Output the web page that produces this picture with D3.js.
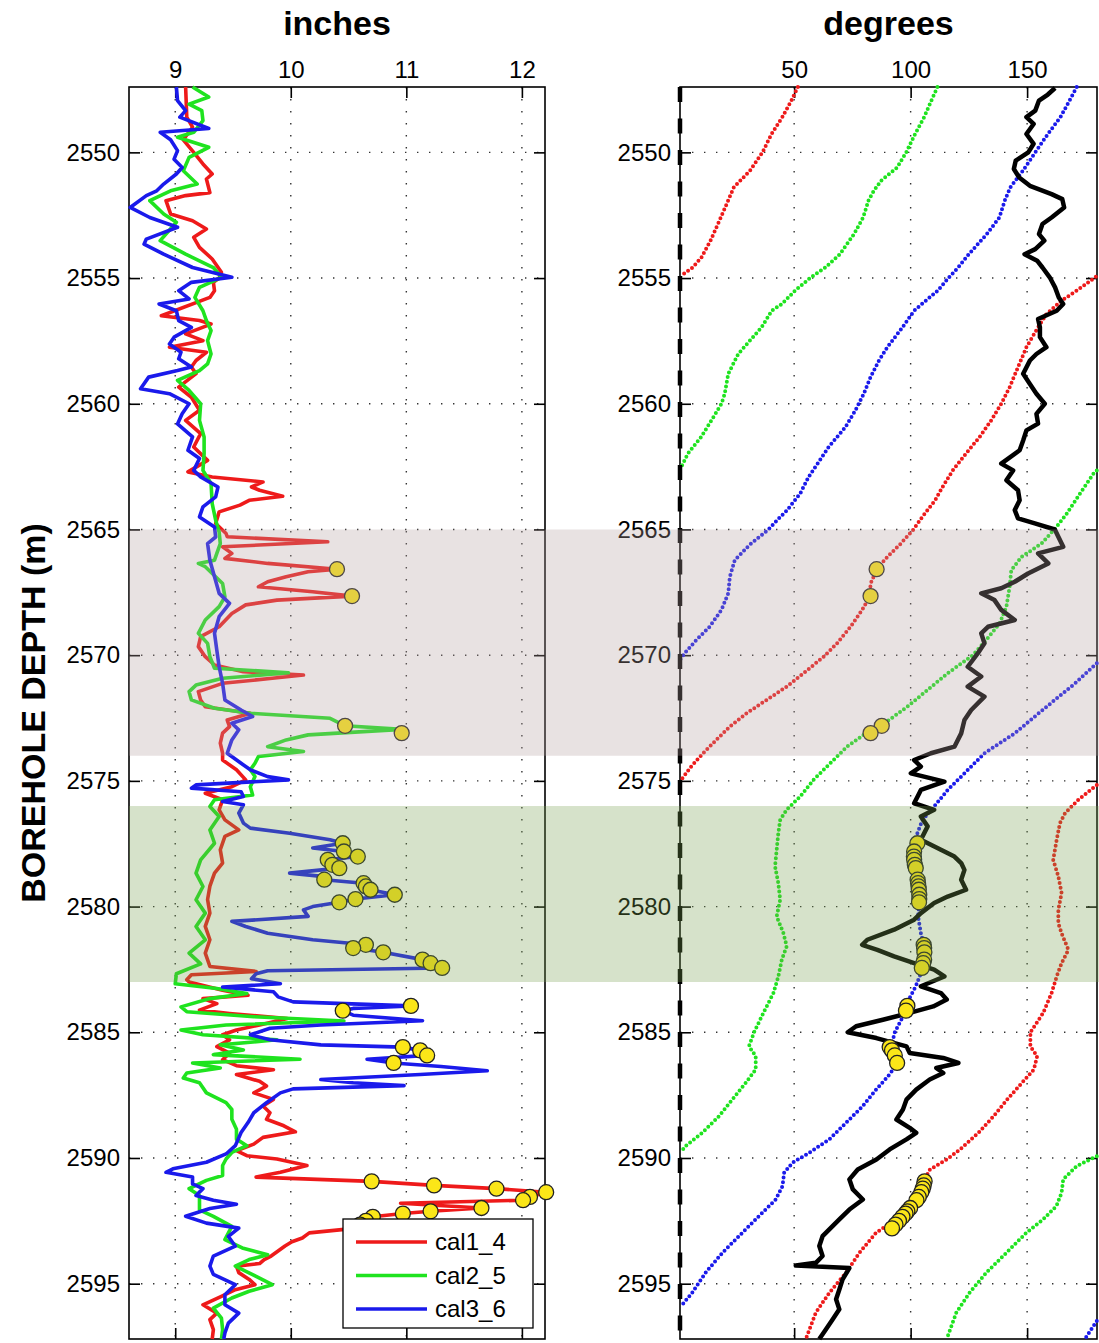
<!DOCTYPE html>
<html>
<head>
<meta charset="utf-8">
<script src="https://cdn.jsdelivr.net/npm/d3@7"></script>
<style>
    body { margin: 0; background: #fff; }
    svg { display: block; font-family: "Liberation Sans", Arial, sans-serif; }
</style>
</head>
<body>
<div class="caliperLog"></div>
<script>
// axis ticks
var depthTicks = [2550, 2555, 2560, 2565, 2570, 2575, 2580, 2585, 2590, 2595];
var inchTicks = [9, 10, 11, 12];
var degreeTicks = [50, 100, 150];

var seriesNames = ['cal1_4', 'cal2_5', 'cal3_6'];

// depth bands (m)
var bandPink = [2565, 2574];
var bandGreen = [2576, 2583];

// caliper curves: [depth, inches]
var cal1_4 = [
    [2547.4, 9.09], [2548.6, 9.10], [2549.0, 9.15], [2549.5, 9.07], [2550.0, 9.16], [2550.46, 9.24],
    [2550.86, 9.32], [2551.06, 9.27], [2551.6, 9.30], [2551.72, 9.09], [2551.92, 8.92], [2552.45, 8.96],
    [2552.72, 9.15], [2553.05, 9.27], [2553.38, 9.16], [2553.78, 9.21], [2554.24, 9.32], [2554.77, 9.40],
    [2555.0, 9.38], [2555.17, 9.33], [2555.5, 9.34], [2555.77, 9.30], [2556.5, 8.88], [2556.69, 9.21],
    [2556.83, 9.31], [2557.22, 9.09], [2557.49, 9.24], [2557.75, 8.95], [2557.95, 9.27], [2558.28, 9.18],
    [2558.54, 9.14], [2558.8, 9.18], [2559.34, 9.03], [2559.74, 9.14], [2560.26, 9.21], [2560.66, 9.09],
    [2561.19, 9.22], [2561.72, 9.16], [2562.25, 9.28], [2562.71, 9.11], [2562.91, 9.32], [2563.11, 9.76],
    [2563.31, 9.66], [2563.44, 9.73], [2563.68, 9.93], [2563.84, 9.64], [2564.03, 9.56], [2564.3, 9.38],
    [2564.76, 9.35], [2565.16, 9.44], [2565.29, 9.45], [2565.49, 10.32], [2565.69, 9.41], [2565.95, 9.49],
    [2566.15, 9.43], [2566.35, 9.80], [2566.58, 10.40], [2566.68, 10.15], [2566.88, 9.96], [2567.08, 9.80],
    [2567.28, 9.72], [2567.48, 10.19], [2567.65, 10.53], [2567.81, 9.88], [2568.0, 9.61], [2568.34, 9.49],
    [2568.87, 9.38], [2569.26, 9.22], [2569.66, 9.20], [2570.06, 9.26], [2570.39, 9.34], [2570.66, 9.59],
    [2570.79, 10.11], [2570.92, 9.84], [2571.12, 9.41], [2571.45, 9.20], [2571.78, 9.22], [2572.05, 9.26],
    [2572.31, 9.65], [2572.58, 9.45], [2572.84, 9.47], [2573.1, 9.41], [2573.5, 9.39], [2573.9, 9.41],
    [2574.17, 9.41], [2574.56, 9.53], [2574.96, 9.61], [2575.23, 9.49], [2575.49, 9.26], [2575.75, 9.41],
    [2576.15, 9.38], [2576.55, 9.43], [2576.95, 9.55], [2577.21, 9.43], [2577.74, 9.39], [2578.27, 9.41],
    [2578.67, 9.34], [2579.19, 9.30], [2579.72, 9.28], [2580.26, 9.30], [2580.79, 9.26], [2581.32, 9.30],
    [2581.85, 9.26], [2582.38, 9.30], [2582.58, 9.70], [2582.71, 9.14], [2582.91, 9.10], [2583.0, 9.12],
    [2583.33, 9.41], [2583.53, 9.63], [2583.66, 9.24], [2583.86, 9.36], [2584.12, 9.21], [2584.25, 9.47],
    [2584.45, 9.97], [2584.71, 9.73], [2584.91, 9.53], [2585.1, 9.41], [2585.3, 9.47], [2585.57, 9.36],
    [2585.83, 9.47], [2586.09, 9.41], [2586.33, 9.53], [2586.49, 9.85], [2586.68, 9.53], [2586.95, 9.73],
    [2587.14, 9.79], [2587.41, 9.68], [2587.67, 9.85], [2587.93, 9.76], [2588.2, 9.82], [2588.46, 9.79],
    [2588.72, 9.94], [2588.96, 10.04], [2589.18, 9.76], [2589.45, 9.68], [2589.71, 9.53], [2589.91, 9.62],
    [2590.04, 9.88], [2590.30, 10.14], [2590.57, 9.91], [2590.76, 9.70], [2590.93, 10.70], [2591.09, 11.24],
    [2591.22, 11.78], [2591.36, 12.21], [2591.55, 12.07], [2591.68, 12.01], [2591.80, 10.95], [2591.99, 11.65],
    [2592.12, 11.21], [2592.21, 10.97], [2592.34, 10.71], [2592.5, 10.65], [2592.65, 10.6], [2592.8, 10.55],
    [2592.98, 10.16], [2593.18, 10.10], [2593.33, 10.01], [2593.5, 9.95], [2593.7, 9.89], [2593.9, 9.83],
    [2594.04, 9.77], [2594.2, 9.73], [2594.3, 9.53], [2594.56, 9.55], [2594.83, 9.64], [2595.04, 9.69],
    [2595.24, 9.52], [2595.5, 9.40], [2595.84, 9.24], [2596.17, 9.36], [2596.43, 9.30], [2596.83, 9.33],
    [2597.2, 9.32]
];

var cal2_5 = [
    [2547.4, 9.15], [2547.8, 9.29], [2548.08, 9.12], [2548.34, 9.23], [2548.74, 9.24], [2549.2, 9.16],
    [2549.4, 9.02], [2549.8, 9.29], [2550.2, 9.12], [2550.73, 9.07], [2551.26, 9.19], [2551.53, 8.96],
    [2551.92, 8.78], [2552.45, 8.90], [2552.78, 9.01], [2553.51, 8.87], [2554.05, 9.09], [2554.58, 9.33],
    [2554.97, 9.40], [2555.37, 9.21], [2555.77, 9.17], [2556.3, 9.24], [2556.69, 9.27], [2557.09, 9.31],
    [2557.49, 9.28], [2558.02, 9.31], [2558.41, 9.28], [2558.68, 9.21], [2559.07, 9.02], [2559.47, 9.12],
    [2560.0, 9.22], [2560.66, 9.21], [2561.32, 9.25], [2561.98, 9.25], [2562.65, 9.24], [2563.17, 9.31],
    [2563.97, 9.32], [2564.63, 9.35], [2565.1, 9.38], [2565.56, 9.39], [2565.95, 9.36], [2566.22, 9.34],
    [2566.35, 9.20], [2566.48, 9.26], [2567.15, 9.41], [2567.68, 9.43], [2568.07, 9.38], [2568.6, 9.26],
    [2569.13, 9.20], [2569.53, 9.28], [2570.06, 9.30], [2570.52, 9.34], [2570.7, 9.98], [2570.92, 9.41],
    [2571.19, 9.18], [2571.45, 9.12], [2571.78, 9.14], [2572.11, 9.34], [2572.31, 9.65], [2572.51, 10.34],
    [2572.81, 10.47], [2572.95, 10.96], [2573.17, 10.15], [2573.37, 9.96], [2573.64, 9.80], [2573.83, 10.11],
    [2574.03, 9.72], [2574.3, 9.69], [2574.56, 9.65], [2574.83, 9.69], [2575.23, 9.65], [2575.56, 9.67],
    [2575.75, 9.34], [2576.02, 9.30], [2576.42, 9.38], [2576.95, 9.30], [2577.48, 9.34], [2578.14, 9.22],
    [2578.67, 9.18], [2579.2, 9.24], [2579.73, 9.18], [2580.26, 9.26], [2580.79, 9.18], [2581.32, 9.26],
    [2581.85, 9.12], [2582.28, 9.22], [2582.67, 9.01], [2583.07, 9.0], [2583.26, 9.36], [2583.46, 9.62],
    [2583.66, 9.30], [2583.99, 9.05], [2584.18, 9.10], [2584.38, 9.68], [2584.55, 10.46], [2584.71, 9.44],
    [2584.91, 9.05], [2585.1, 9.24], [2585.3, 9.88], [2585.5, 9.39], [2585.7, 9.59], [2585.89, 9.33],
    [2586.07, 10.08], [2586.22, 9.15], [2586.42, 9.39], [2586.62, 9.10], [2586.82, 9.07], [2587.01, 9.21],
    [2587.41, 9.27], [2587.8, 9.44], [2588.07, 9.49], [2588.46, 9.49], [2588.86, 9.53], [2589.25, 9.53],
    [2589.51, 9.62], [2589.78, 9.49], [2590.04, 9.44], [2590.3, 9.41], [2590.7, 9.41], [2590.89, 9.27],
    [2591.22, 9.12], [2591.49, 9.21], [2591.88, 9.21], [2592.06, 9.21], [2592.32, 9.33], [2592.72, 9.49],
    [2593.25, 9.43], [2593.58, 9.58], [2593.85, 9.80], [2594.04, 9.64], [2594.3, 9.52], [2594.71, 9.70],
    [2595.04, 9.84], [2595.3, 9.64], [2595.57, 9.49], [2595.97, 9.33], [2596.37, 9.40], [2596.83, 9.41],
    [2597.2, 9.40]
];

var cal3_6 = [
    [2547.4, 9.01], [2547.94, 9.02], [2548.34, 9.09], [2548.6, 9.04], [2549.05, 9.29], [2549.2, 8.87],
    [2549.5, 8.96], [2549.93, 9.02], [2550.27, 8.99], [2550.6, 9.06], [2550.86, 9.01], [2551.26, 8.90],
    [2551.53, 8.84], [2551.72, 8.75], [2552.19, 8.61], [2552.59, 8.78], [2552.98, 9.02], [2553.45, 8.75],
    [2553.65, 8.73], [2554.05, 8.90], [2554.58, 9.15], [2554.97, 9.49], [2555.17, 9.14], [2555.5, 9.03],
    [2555.83, 9.12], [2556.03, 8.86], [2556.3, 9.01], [2556.69, 9.03], [2556.96, 9.14], [2557.35, 8.99],
    [2557.62, 8.95], [2557.95, 9.05], [2558.21, 9.03], [2558.54, 9.14], [2558.68, 9.02], [2558.94, 8.77],
    [2559.4, 8.70], [2559.6, 8.95], [2560.0, 9.12], [2560.4, 9.06], [2560.8, 9.02], [2561.32, 9.15],
    [2561.85, 9.11], [2562.18, 9.21], [2562.65, 9.16], [2562.91, 9.22], [2563.31, 9.37], [2563.7, 9.35],
    [2564.1, 9.24], [2564.5, 9.21], [2564.9, 9.34], [2565.3, 9.35], [2565.56, 9.28], [2566.22, 9.30],
    [2566.88, 9.34], [2567.54, 9.38], [2567.94, 9.47], [2568.47, 9.38], [2569.13, 9.34], [2569.8, 9.36],
    [2570.46, 9.38], [2571.12, 9.41], [2571.78, 9.43], [2572.18, 9.57], [2572.44, 9.67], [2572.71, 9.49],
    [2572.97, 9.55], [2573.37, 9.49], [2573.9, 9.45], [2574.3, 9.57], [2574.56, 9.65], [2574.83, 9.80],
    [2574.96, 9.98], [2575.16, 9.18], [2575.29, 9.14], [2575.43, 9.57], [2575.62, 9.59], [2575.82, 9.41],
    [2575.95, 9.59], [2576.28, 9.55], [2576.68, 9.59], [2576.88, 9.65], [2577.08, 9.99], [2577.34, 10.34],
    [2577.48, 10.45], [2577.67, 10.19], [2577.81, 10.46], [2578.01, 10.58], [2578.14, 10.32], [2578.34, 10.36],
    [2578.47, 10.42], [2578.67, 9.99], [2578.8, 10.27], [2578.93, 10.29], [2579.07, 10.63], [2579.2, 10.65],
    [2579.33, 10.69], [2579.53, 10.90], [2579.70, 10.56], [2579.83, 10.42], [2580.0, 10.19], [2580.13, 10.11],
    [2580.39, 10.15], [2580.59, 9.49], [2580.79, 9.61], [2581.06, 9.80], [2581.32, 10.19], [2581.52, 10.65],
    [2581.65, 10.54], [2581.82, 10.80], [2582.11, 11.14], [2582.25, 11.21], [2582.44, 11.31], [2582.55, 9.80],
    [2582.67, 9.70], [2582.87, 9.66], [2583.07, 9.91], [2583.2, 9.41], [2583.39, 9.85], [2583.59, 9.89],
    [2583.79, 10.02], [2583.95, 11.04], [2584.05, 10.54], [2584.14, 10.45], [2584.32, 10.54], [2584.54, 11.14],
    [2584.71, 10.26], [2584.84, 9.82], [2585.1, 9.65], [2585.3, 9.82], [2585.5, 10.26], [2585.59, 10.97],
    [2585.72, 11.12], [2585.92, 11.18], [2586.07, 10.66], [2586.22, 10.89], [2586.36, 11.30], [2586.53, 11.70],
    [2586.68, 11.12], [2586.88, 10.26], [2587.01, 10.54], [2587.12, 10.98], [2587.25, 10.02], [2587.41, 9.91],
    [2587.8, 9.79], [2588.2, 9.68], [2588.59, 9.63], [2588.99, 9.57], [2589.51, 9.52], [2589.84, 9.44],
    [2590.17, 9.27], [2590.43, 8.98], [2590.57, 8.92], [2590.76, 9.15], [2591.03, 9.15], [2591.22, 9.24],
    [2591.49, 9.18], [2591.68, 9.33], [2591.84, 9.53], [2592.01, 9.30], [2592.32, 9.09], [2592.59, 9.27],
    [2592.79, 9.55], [2593.12, 9.46], [2593.51, 9.52], [2593.9, 9.33], [2594.3, 9.30], [2594.63, 9.33],
    [2595.04, 9.52], [2595.44, 9.43], [2595.84, 9.43], [2596.17, 9.55], [2596.57, 9.46], [2596.96, 9.43],
    [2597.2, 9.42]
];

// pad azimuths [depth, degrees], split where they wrap 0 -> 180
var padRed = [
    [[2547.4, 51.6], [2547.94, 48.8], [2548.6, 44.9], [2549.27, 40.3], [2550.0, 36.4], [2550.73, 31.0],
     [2551.39, 24.1], [2552.06, 21.0], [2552.72, 17.9], [2553.51, 14.1], [2554.18, 10.2], [2554.58, 6.4],
     [2554.9, 1.5]],
    [[2554.95, 179.5], [2555.5, 171.3], [2555.9, 164.8], [2556.43, 158.3], [2556.96, 154.7], [2557.75, 149.7],
     [2558.54, 146.1], [2559.34, 142.5], [2560.0, 138.9], [2560.66, 134.6], [2561.32, 129.6], [2561.98, 123.8],
     [2562.65, 118.1], [2563.31, 113.7], [2563.84, 110.5], [2564.5, 105.0], [2565.0, 101.2], [2565.56, 95.8],
     [2566.09, 90.0], [2566.55, 85.7], [2567.15, 82.8], [2567.65, 82.5], [2568.2, 79.2], [2568.87, 74.2],
     [2569.53, 68.4], [2570.06, 62.7], [2570.72, 54.0], [2571.25, 46.8], [2571.78, 38.2], [2572.31, 29.6],
     [2572.84, 22.4], [2573.37, 16.6], [2573.9, 10.9], [2574.43, 5.8], [2574.96, 1.5]],
    [[2575.16, 179.9], [2575.75, 172.0], [2576.28, 166.3], [2576.68, 164.1], [2577.34, 162.7], [2578.14, 161.2],
     [2578.8, 163.4], [2579.46, 164.8], [2580.13, 163.4], [2580.66, 163.4], [2581.06, 164.8], [2581.72, 167.7],
     [2582.25, 164.8], [2582.78, 162.7], [2583.44, 160.5], [2584.23, 156.9], [2585.0, 151.4], [2585.56, 151.4],
     [2585.95, 154.3], [2586.48, 152.9], [2587.01, 147.8], [2587.68, 141.4], [2588.34, 135.6], [2589.0, 129.1],
     [2589.66, 121.2], [2590.06, 115.5], [2590.46, 108.3], [2590.85, 106.0], [2591.38, 104.5], [2591.91, 99.5],
     [2592.44, 93.8], [2592.97, 85.2], [2593.77, 78.0], [2594.56, 72.3], [2595.36, 65.1], [2596.15, 59.3],
     [2597.2, 55.0]]
];

var padGreen = [
    [[2547.4, 111.5], [2547.94, 108.9], [2548.6, 105.8], [2549.27, 101.9], [2550.0, 98.1], [2550.6, 94.2],
     [2551.13, 87.3], [2551.53, 84.2], [2551.92, 81.9], [2552.59, 79.6], [2553.25, 75.7], [2554.05, 69.6],
     [2554.58, 63.4], [2554.97, 57.2], [2555.5, 50.4], [2556.03, 44.7], [2556.3, 40.4], [2556.96, 36.0],
     [2557.49, 31.0], [2558.02, 26.0], [2558.81, 21.7], [2559.6, 20.2], [2560.0, 18.8], [2560.66, 14.5],
     [2561.32, 10.1], [2561.98, 4.4], [2562.58, 1.2]],
    [[2562.65, 179.9], [2562.78, 178.5], [2563.57, 172.7], [2564.37, 167.0], [2564.89, 162.7], [2565.56, 156.2],
     [2566.09, 147.6], [2566.62, 143.2], [2567.28, 142.5], [2568.07, 141.1], [2568.74, 138.2], [2569.4, 132.4],
     [2570.0, 126.7], [2570.72, 115.9], [2571.38, 107.3], [2572.05, 98.6], [2572.58, 90.7], [2572.97, 82.8],
     [2573.64, 72.7], [2574.3, 65.5], [2574.96, 58.3], [2575.62, 52.6], [2576.15, 46.8], [2576.55, 44.0],
     [2577.08, 43.2], [2577.74, 42.5], [2578.4, 41.8], [2579.07, 43.2], [2579.73, 44.0], [2580.39, 42.5],
     [2581.06, 45.4], [2581.58, 46.8], [2582.11, 44.7], [2582.78, 43.2], [2583.44, 41.1], [2584.23, 36.8],
     [2585.0, 32.8], [2585.56, 30.6], [2585.95, 33.5], [2586.48, 33.5], [2587.01, 29.2], [2587.68, 23.4],
     [2588.34, 17.7], [2589.0, 10.5], [2589.53, 3.3], [2589.79, 1.2]],
    [[2589.93, 179.9], [2590.32, 171.3], [2590.85, 165.5], [2591.38, 164.8], [2591.91, 162.6], [2592.44, 156.9],
     [2592.97, 149.7], [2593.77, 141.1], [2594.56, 132.5], [2595.36, 125.3], [2596.15, 119.6], [2597.2, 115.5]]
];

var padBlue = [
    [[2547.4, 171.3], [2547.94, 168.2], [2548.6, 164.3], [2549.27, 158.9], [2550.0, 153.5], [2550.73, 148.2],
     [2551.39, 142.8], [2551.92, 140.4], [2552.59, 138.1], [2553.25, 132.7], [2554.05, 125.0], [2554.58, 120.4],
     [2554.97, 116.5], [2555.5, 111.6], [2555.9, 106.5], [2556.3, 101.5], [2556.96, 96.5], [2557.75, 90.0],
     [2558.28, 86.4], [2558.94, 82.8], [2559.6, 79.9], [2560.26, 76.3], [2560.93, 72.0], [2561.72, 64.8],
     [2562.51, 59.1], [2562.91, 56.2], [2563.57, 52.6], [2564.23, 47.0], [2564.6, 43.0], [2565.0, 39.0],
     [2565.6, 31.0], [2566.22, 24.5], [2566.88, 22.4], [2567.54, 21.7], [2568.2, 18.8], [2568.87, 13.7],
     [2569.4, 8.0], [2569.93, 2.9], [2570.19, 1.0]],
    [[2570.32, 179.9], [2571.12, 170.6], [2571.78, 161.9], [2572.44, 153.3], [2573.11, 144.7], [2573.9, 131.7],
     [2574.7, 123.1], [2575.36, 115.9], [2576.02, 110.1], [2576.55, 105.1], [2577.08, 102.9], [2577.74, 101.5],
     [2578.4, 102.2], [2579.07, 103.2], [2579.73, 103.7], [2580.39, 103.2], [2581.06, 104.4], [2581.58, 105.8],
     [2582.11, 105.8], [2582.65, 104.4], [2583.17, 102.2], [2583.7, 99.2], [2584.36, 96.8], [2585.0, 93.2],
     [2585.56, 91.7], [2586.22, 94.6], [2586.75, 90.3], [2587.28, 85.2], [2587.94, 79.4], [2588.6, 72.3],
     [2589.26, 65.1], [2589.79, 56.5], [2590.19, 49.3], [2590.59, 45.7], [2591.12, 45.0], [2591.65, 42.1],
     [2592.31, 34.9], [2592.97, 27.8], [2593.77, 19.2], [2594.56, 12.0], [2595.36, 6.2], [2595.89, 1.5]],
    [[2596.48, 179.9], [2597.2, 174.8]]
];

// azimuth of the long axis [depth, degrees]
var longAxisAz = [
    [2547.44, 162.0], [2547.7, 158.9], [2547.94, 155.1], [2548.34, 153.5], [2548.6, 149.7], [2548.87, 152.8],
    [2549.27, 149.7], [2549.66, 152.8], [2550.0, 150.5], [2550.33, 145.1], [2550.66, 144.3], [2551.0, 146.6],
    [2551.33, 151.2], [2551.66, 160.5], [2551.86, 165.1], [2552.19, 165.9], [2552.59, 160.5], [2552.85, 156.6],
    [2553.25, 155.1], [2553.51, 157.4], [2553.85, 153.5], [2554.05, 148.9], [2554.31, 154.3], [2554.58, 156.6],
    [2554.97, 159.7], [2555.37, 162.0], [2555.77, 163.6], [2556.03, 165.5], [2556.3, 162.7], [2556.63, 154.7],
    [2556.96, 155.5], [2557.35, 155.5], [2557.75, 158.3], [2558.02, 154.0], [2558.28, 151.2], [2558.81, 148.3],
    [2559.21, 151.2], [2559.6, 154.0], [2560.0, 157.6], [2560.4, 154.0], [2560.79, 154.7], [2561.06, 149.7],
    [2561.46, 148.3], [2561.85, 146.8], [2562.38, 138.9], [2562.65, 144.0], [2563.04, 141.1], [2563.44, 146.1],
    [2563.84, 146.8], [2564.23, 144.7], [2564.56, 146.1], [2564.76, 153.3], [2565.0, 161.9], [2565.29, 163.4],
    [2565.69, 165.5], [2565.95, 154.7], [2566.35, 159.1], [2566.75, 150.4], [2567.08, 144.7], [2567.34, 138.9],
    [2567.54, 130.3], [2567.81, 136.0], [2568.2, 138.9], [2568.6, 144.7], [2568.87, 133.2], [2569.13, 130.3],
    [2569.53, 131.7], [2569.93, 128.8], [2570.46, 124.5], [2570.85, 130.3], [2571.25, 124.5], [2571.65, 131.7],
    [2572.18, 126.0], [2572.58, 123.1], [2573.11, 121.7], [2573.64, 118.8], [2573.9, 108.7], [2574.17, 101.5],
    [2574.43, 104.4], [2574.7, 100.1], [2575.03, 114.5], [2575.36, 104.4], [2575.62, 103.0], [2575.89, 101.5],
    [2576.15, 110.1], [2576.42, 104.4], [2576.81, 107.3], [2577.34, 104.4], [2577.74, 113.0], [2578.01, 118.8],
    [2578.27, 121.7], [2578.54, 123.1], [2578.93, 121.7], [2579.33, 123.8], [2579.6, 115.9], [2579.86, 110.1],
    [2580.26, 104.4], [2580.52, 101.5], [2580.92, 92.9], [2581.32, 81.4], [2581.52, 79.2], [2581.72, 85.7],
    [2581.98, 92.9], [2582.25, 101.5], [2582.51, 110.1], [2582.78, 114.5], [2583.17, 104.4], [2583.44, 113.0],
    [2583.7, 115.5], [2583.97, 109.7], [2584.23, 99.6], [2584.5, 88.1], [2584.76, 76.6], [2585.0, 73.0],
    [2585.23, 85.3], [2585.56, 98.2], [2585.82, 99.6], [2586.02, 114.0], [2586.22, 120.5], [2586.42, 111.0],
    [2586.62, 114.0], [2586.88, 108.2], [2587.28, 102.4], [2587.68, 98.2], [2588.07, 96.7], [2588.47, 93.9],
    [2588.8, 99.6], [2589.0, 102.4], [2589.26, 98.2], [2589.66, 91.0], [2590.06, 85.3], [2590.46, 77.3],
    [2590.85, 73.7], [2591.25, 75.2], [2591.65, 79.5], [2592.05, 73.7], [2592.44, 69.4], [2592.84, 65.1],
    [2593.11, 62.2], [2593.5, 60.8], [2593.9, 62.2], [2594.17, 59.3], [2594.28, 50.7], [2594.38, 73.7],
    [2594.83, 70.8], [2595.23, 69.4], [2595.62, 68.0], [2596.02, 69.4], [2596.42, 66.5], [2596.82, 63.6],
    [2597.2, 60.8]
];

// picked maxima: depth, caliper (inches), azimuth (degrees)
var pickDepth = [2566.58, 2567.65, 2572.81, 2573.10, 2577.48, 2577.81, 2578.01, 2578.14, 2578.34, 2578.47,
    2578.93, 2579.07, 2579.20, 2579.33, 2579.53, 2579.70, 2579.83, 2581.52, 2581.65, 2581.82, 2582.11,
    2582.25, 2582.44, 2583.95, 2584.14, 2585.59, 2585.72, 2585.92, 2586.22, 2590.93, 2591.09, 2591.22,
    2591.36, 2591.55, 2591.68, 2591.99, 2592.12, 2592.21, 2592.34, 2592.5, 2592.65, 2592.8];
var pickCal = [10.40, 10.53, 10.47, 10.96, 10.45, 10.46, 10.58, 10.32, 10.36, 10.42,
    10.29, 10.63, 10.65, 10.69, 10.90, 10.56, 10.42, 10.65, 10.54, 10.80, 11.14,
    11.21, 11.31, 11.04, 10.45, 10.97, 11.12, 11.18, 10.89, 10.70, 11.24, 11.78,
    12.21, 12.07, 12.01, 11.65, 11.21, 10.97, 10.71, 10.65, 10.6, 10.55];
var pickAz = [85.4, 82.8, 87.6, 82.8, 102.9, 101.5, 101.4, 101.5, 101.8, 102.2,
    103.0, 103.2, 103.4, 103.5, 103.7, 103.7, 103.6, 105.6, 105.8, 105.9, 105.8,
    105.4, 104.8, 98.6, 98.0, 91.0, 92.0, 93.2, 94.2, 106.0, 105.6, 105.2,
    104.6, 103.5, 102.5, 99.8, 98.6, 97.8, 96.5, 95.0, 93.5, 92.0];

var colors = ['#ee1a1a', '#1fe31f', '#1a1aeb'];
var fontSize = '24px';

function caliperLog() {
    var width = 1099, height = 1343;
    var top = 87, bottom = 1339;

    var svg = d3.select('.caliperLog')
        .append('svg')
        .attr('width', width)
        .attr('height', height);

    var y = d3.scaleLinear().domain([2547.4, 2597.2]).range([top, bottom]);
    var xIn = d3.scaleLinear().domain([8.6, 12.2]).range([129, 545]);
    var xDeg = d3.scaleLinear().domain([1, 180]).range([680, 1097]);

    function drawFrame(x, ticks, title) {
        var left = x.range()[0], right = x.range()[1];
        var g = svg.append('g');

        // dotted grid
        g.selectAll('.vgrid').data(ticks).enter().append('line')
            .attr('x1', d => x(d)).attr('x2', d => x(d))
            .attr('y1', top).attr('y2', bottom)
            .attr('stroke', '#333').attr('stroke-width', 1.4)
            .attr('stroke-dasharray', '1.4 10.6');
        g.selectAll('.hgrid').data(depthTicks).enter().append('line')
            .attr('x1', left).attr('x2', right)
            .attr('y1', d => y(d)).attr('y2', d => y(d))
            .attr('stroke', '#333').attr('stroke-width', 1.4)
            .attr('stroke-dasharray', '1.4 10.6');

        var axes = [
            [d3.axisTop(x).tickValues(ticks), 'translate(0,' + top + ')', true],
            [d3.axisBottom(x).tickValues(ticks), 'translate(0,' + bottom + ')', false],
            [d3.axisLeft(y).tickValues(depthTicks), 'translate(' + left + ',0)', true],
            [d3.axisRight(y).tickValues(depthTicks), 'translate(' + right + ',0)', false]
        ];
        axes.forEach(function(a) {
            var ax = a[0].tickSizeInner(-11).tickSizeOuter(0).tickPadding(9)
                .tickFormat(a[2] ? d3.format('d') : '');
            var ag = g.append('g').attr('transform', a[1]).call(ax);
            ag.select('.domain').remove();
            ag.selectAll('line').attr('stroke', '#000').attr('stroke-width', 1.6);
            ag.selectAll('text')
                .attr('fill', '#000')
                .style('font-size', fontSize)
                .style('font-family', '"Liberation Sans", Arial, sans-serif');
        });

        g.append('rect')
            .attr('x', left).attr('y', top)
            .attr('width', right - left).attr('height', bottom - top)
            .attr('fill', 'none').attr('stroke', '#000').attr('stroke-width', 1.6);

        svg.append('text')
            .text(title)
            .attr('x', (left + right) / 2).attr('y', 35)
            .attr('text-anchor', 'middle')
            .style('font-size', '34px').style('font-weight', 'bold');
    }

    drawFrame(xIn, inchTicks, 'inches');
    drawFrame(xDeg, degreeTicks, 'degrees');

    svg.append('text')
        .text('BOREHOLE DEPTH (m)')
        .attr('transform', 'translate(45,' + (top + bottom) / 2 + ') rotate(-90)')
        .attr('text-anchor', 'middle')
        .style('font-size', '34px').style('font-weight', 'bold');

    // caliper curves
    var calLine = d3.line().x(d => xIn(d[1])).y(d => y(d[0]));
    [cal1_4, cal2_5, cal3_6].forEach(function(s, i) {
        svg.append('path')
            .datum(s)
            .attr('d', calLine)
            .attr('fill', 'none')
            .attr('stroke', colors[i])
            .attr('stroke-width', 3.6)
            .attr('stroke-linejoin', 'round');
    });

    // pad azimuths as dotted traces
    var azLine = d3.line().x(d => xDeg(d[1])).y(d => y(d[0]));
    [padRed, padGreen, padBlue].forEach(function(segs, i) {
        svg.selectAll(null)
            .data(segs)
            .enter()
            .append('path')
            .attr('d', azLine)
            .attr('fill', 'none')
            .attr('stroke', colors[i])
            .attr('stroke-width', 4)
            .attr('stroke-linecap', 'round')
            .attr('stroke-dasharray', '0 4.8');
    });

    // dashed zero line
    svg.append('line')
        .attr('x1', xDeg(1)).attr('x2', xDeg(1))
        .attr('y1', top).attr('y2', bottom)
        .attr('stroke', '#000').attr('stroke-width', 4.5)
        .attr('stroke-dasharray', '15 16.5');

    svg.append('path')
        .datum(longAxisAz)
        .attr('d', azLine)
        .attr('fill', 'none')
        .attr('stroke', '#000')
        .attr('stroke-width', 4.5)
        .attr('stroke-linejoin', 'round');

    // picks
    var picks = pickDepth.map((d, i) => ({depth: d, cal: pickCal[i], az: pickAz[i]}));
    svg.selectAll('.pickCal').data(picks).enter().append('circle')
        .attr('cx', d => xIn(d.cal)).attr('cy', d => y(d.depth))
        .attr('r', 7.5)
        .attr('fill', '#fbe618').attr('stroke', '#222').attr('stroke-width', 1.3);
    svg.selectAll('.pickAz').data(picks).enter().append('circle')
        .attr('cx', d => xDeg(d.az)).attr('cy', d => y(d.depth))
        .attr('r', 7.5)
        .attr('fill', '#fbe618').attr('stroke', '#222').attr('stroke-width', 1.3);

    // shaded intervals drawn over everything
    [[bandPink, 'rgb(178,158,158)'], [bandGreen, 'rgb(120,160,80)']].forEach(function(b) {
        svg.append('rect')
            .attr('x', xIn.range()[0]).attr('width', width - xIn.range()[0])
            .attr('y', y(b[0][0])).attr('height', y(b[0][1]) - y(b[0][0]))
            .attr('fill', b[1]).attr('fill-opacity', 0.3);
    });

    // legend
    var lg = svg.append('g');
    lg.append('rect')
        .attr('x', 343).attr('y', 1219).attr('width', 190).attr('height', 109)
        .attr('fill', '#fff').attr('stroke', '#000').attr('stroke-width', 1.3);
    seriesNames.forEach(function(name, i) {
        var ly = 1242 + i * 33.5;
        lg.append('line')
            .attr('x1', 356).attr('x2', 427).attr('y1', ly).attr('y2', ly)
            .attr('stroke', colors[i]).attr('stroke-width', 3.6);
        lg.append('text')
            .text(name)
            .attr('x', 435).attr('y', ly).attr('dy', '0.35em')
            .style('font-size', fontSize);
    });
}
caliperLog();
</script>
</body>
</html>
